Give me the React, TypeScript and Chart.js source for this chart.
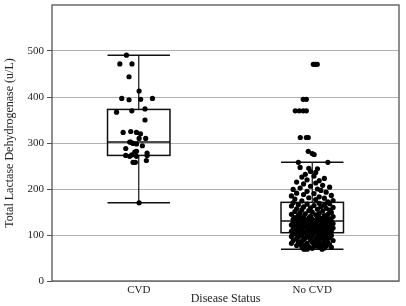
import React, { useEffect, useRef } from "react";
import { Chart, registerables } from "chart.js";

Chart.register(...registerables);

// Categories
const categories = ["CVD", "No CVD"];
const categoryPositions = [1, 2];

// Box plot summaries [min whisker, Q1, median, Q3, max whisker]
const cvdBox = [170, 273, 302, 373, 491];
const noCvdBox = [69, 105, 130.5, 171, 258];

// CVD observations (value) and horizontal jitter (category units)
const cvdValues = [
  491, 472, 472, 444, 413, 397, 394, 395, 397, 367, 370, 374, 350, 323, 325, 323, 320, 310, 310, 302,
  299, 298, 294, 288, 280, 282, 273, 271, 274, 271, 278, 273, 258, 258, 262, 170, 302,
];
const cvdJitter = [
  -0.071, -0.109, -0.039, -0.056, 0.002, -0.098, -0.056, 0.011, 0.079, -0.128, -0.04, 0.036, 0.036,
  -0.09, -0.046, -0.013, 0.01, 0.002, 0.04, -0.046, -0.033, -0.013, 0.021, -0.075, -0.023, -0.013,
  -0.075, -0.052, -0.04, -0.013, 0.048, 0.048, -0.033, -0.019, 0.044, 0.002, -0.052,
];

// No CVD observations (value) and horizontal jitter (category units)
const noCvdValues = [
  471, 471, 471, 395, 395, 370, 370, 370, 370, 312, 312, 312, 282, 277, 275,
  258, 258, 247, 245, 244, 238, 236, 232, 228, 226, 223, 220, 218, 215, 213, 211, 208, 206, 204, 202,
  200, 199, 197, 195, 193, 191, 190, 188, 186, 185, 183, 181, 180, 178, 177, 175, 174, 172,
  170, 169, 168, 167, 166, 165, 164, 163, 162, 161, 160, 159, 158, 157, 156, 155, 154, 153, 152, 151,
  150, 149, 148, 147, 146, 145, 145, 144, 143, 142, 141, 140, 140, 139, 138, 138, 137, 136, 136, 135,
  134, 134, 133, 133, 132, 132, 131, 131, 131, 130, 130, 130, 130, 130,
  129, 129, 128, 128, 127, 127, 126, 126, 125, 125, 124, 124, 123, 123, 122, 122, 121, 121, 120, 120,
  119, 119, 118, 118, 117, 117, 116, 116, 115, 115, 114, 114, 113, 113, 112, 112, 111, 111, 110, 110,
  109, 109, 108, 108, 107, 107, 106, 106, 106, 105, 105, 105, 105, 105,
  104, 103, 103, 102, 101, 101, 100, 99, 99, 98, 97, 97, 96, 95, 95, 94, 93, 93, 92, 91,
  90, 90, 89, 88, 88, 87, 86, 86, 85, 84, 84, 83, 82, 82, 81, 80, 80, 79, 78, 78,
  77, 76, 76, 75, 74, 74, 73, 72, 72, 71, 70, 69, 69, 69,
];
const noCvdJitter = [
  0.006, 0.017, 0.029, -0.052, -0.034, -0.098, -0.075, -0.052, -0.034, -0.069, -0.034, -0.023, -0.023, 0, 0.011,
  -0.08, 0.09, -0.07, -0.02, 0.03, -0.01, 0.02, -0.04, 0.01, -0.06, 0.07, -0.03, 0.04, -0.09, 0.02, -0.05, 0.06, -0.01, 0.1, -0.07,
  0.03, -0.11, 0.05, -0.03, 0.08, -0.09, 0.01, -0.05, 0.11, -0.12, 0.04, -0.02, 0.07, -0.1, 0.02, 0.12, -0.06, 0.09,
  -0.11, 0.04, 0.1, -0.03, -0.08, 0.07, 0.01, -0.12, 0.05, -0.05, 0.12, -0.01, 0.08, -0.09, 0.03, -0.06, 0.1, -0.02, 0.06, -0.1,
  0, 0.11, -0.07, 0.04, -0.04, 0.09, -0.12, 0.02, -0.08, 0.07, -0.01, 0.12, -0.05, 0.03, -0.1, 0.08, -0.02, 0.05, -0.07, 0.1,
  0, -0.11, 0.06, -0.04, 0.02, -0.09, 0.09, -0.01, 0.04, -0.06, 0.11, 0.01, -0.03, 0.07,
  -0.08, 0.05, 0.1, -0.02, -0.11, 0.03, 0.07, -0.05, 0, 0.12, -0.09, 0.04, -0.03, 0.08, -0.12, 0.01, 0.06, -0.06, 0.11, -0.01,
  0.03, -0.08, 0.09, -0.04, 0.02, -0.1, 0.06, -0.02, 0.12, -0.07, 0, 0.05, -0.11, 0.08, -0.03, 0.03, 0.1, -0.06, 0.01, -0.09,
  0.07, -0.02, 0.04, -0.12, 0.11, -0.05, 0.02, 0.08, -0.08, -0.01, 0.05, -0.04, 0.1, 0,
  -0.07, 0.06, 0.01, -0.1, 0.09, -0.03, 0.04, -0.06, 0.11, 0, -0.12, 0.07, -0.02, 0.03, -0.08, 0.1, -0.04, 0.05, -0.09, 0.02,
  0.08, -0.05, -0.01, 0.12, -0.11, 0.04, -0.06, 0.07, 0, -0.08, 0.09, 0.03, -0.03, -0.12, 0.06, 0.01, -0.07, 0.1, -0.04, 0.05,
  -0.09, 0.02, 0.08, -0.02, -0.06, 0.04, 0.11, -0.03, 0.07, 0, -0.05, -0.046, -0.029, 0.057,
];

// Y axis ticks
const yTickValues = [0, 100, 200, 300, 400, 500];
const yMax = 600;

const boxes = [
  { pos: categoryPositions[0], stats: cvdBox },
  { pos: categoryPositions[1], stats: noCvdBox },
];

const BOX_HALF = 0.18;
const FONT = "'Liberation Serif', 'Times New Roman', serif";

const boxPlugin = {
  id: "boxPlot",
  beforeDatasetsDraw(chart: any) {
    const { ctx, scales } = chart;
    const x = scales.x;
    const y = scales.y;
    ctx.save();
    ctx.strokeStyle = "#111";
    boxes.forEach((b) => {
      const [mn, q1, med, q3, mx] = b.stats;
      const xl = x.getPixelForValue(b.pos - BOX_HALF);
      const xr = x.getPixelForValue(b.pos + BOX_HALF);
      const xc = x.getPixelForValue(b.pos);
      ctx.lineWidth = 1.2;
      ctx.beginPath();
      ctx.moveTo(xc, y.getPixelForValue(mx));
      ctx.lineTo(xc, y.getPixelForValue(q3));
      ctx.moveTo(xc, y.getPixelForValue(q1));
      ctx.lineTo(xc, y.getPixelForValue(mn));
      ctx.stroke();
      ctx.lineWidth = 1.5;
      ctx.beginPath();
      [mn, mx, med].forEach((v) => {
        const py = y.getPixelForValue(v);
        ctx.moveTo(xl, py);
        ctx.lineTo(xr, py);
      });
      ctx.stroke();
      const top = y.getPixelForValue(q3);
      const bot = y.getPixelForValue(q1);
      ctx.strokeRect(xl, top, xr - xl, bot - top);
    });
    ctx.restore();
  },
  afterDraw(chart: any) {
    const { ctx, chartArea } = chart;
    ctx.save();
    ctx.strokeStyle = "#555";
    ctx.lineWidth = 1.3;
    ctx.strokeRect(chartArea.left, chartArea.top, chartArea.right - chartArea.left, chartArea.bottom - chartArea.top);
    ctx.restore();
  },
};

export default function App() {
  const ref = useRef<HTMLCanvasElement>(null);
  useEffect(() => {
    document.body.style.margin = "0";
    const canvas = ref.current;
    if (!canvas) return;
    const cvdPts = cvdValues.map((v, i) => ({ x: categoryPositions[0] + cvdJitter[i], y: v }));
    const noPts = noCvdValues.map((v, i) => ({ x: categoryPositions[1] + noCvdJitter[i], y: v }));
    const chart = new Chart(canvas, {
      type: "scatter",
      data: {
        datasets: [
          { data: cvdPts, backgroundColor: "#000", borderColor: "#000", pointRadius: 2.6, borderWidth: 0 },
          { data: noPts, backgroundColor: "#000", borderColor: "#000", pointRadius: 2.6, borderWidth: 0 },
        ],
      },
      plugins: [boxPlugin],
      options: {
        animation: false,
        responsive: false,
        devicePixelRatio: 1,
        layout: { padding: { left: 0, right: 7, top: 5, bottom: 0 } },
        plugins: { legend: { display: false }, tooltip: { enabled: false } },
        scales: {
          x: {
            type: "linear",
            min: 0.5,
            max: 2.5,
            afterBuildTicks: (s: any) => {
              s.ticks = categoryPositions.map((p) => ({ value: p }));
            },
            afterFit: (s: any) => {
              s.height = 25;
              s.paddingLeft = 0;
              s.paddingRight = 0;
            },
            ticks: {
              autoSkip: false,
              maxRotation: 0,
              padding: 3,
              color: "#222",
              font: { family: FONT, size: 11 },
              callback: (v: any) => {
                const i = categoryPositions.indexOf(Number(v));
                return i >= 0 ? categories[i] : "";
              },
            },
            grid: { display: false, drawTicks: false },
            border: { display: false },
            title: {
              display: true,
              text: "Disease Status",
              color: "#222",
              font: { family: FONT, size: 12 },
              padding: { top: 0, bottom: 0 },
            },
          },
          y: {
            min: 0,
            max: yMax,
            afterBuildTicks: (s: any) => {
              s.ticks = yTickValues.map((v) => ({ value: v }));
            },
            afterFit: (s: any) => {
              s.width = 52;
              s.paddingTop = 0;
              s.paddingBottom = 0;
            },
            ticks: {
              padding: 3,
              color: "#222",
              font: { family: FONT, size: 11 },
            },
            grid: { color: "#b0b0b0", lineWidth: 1, tickLength: 5, tickColor: "#555" },
            border: { display: false },
            title: {
              display: true,
              text: "Total Lactase Dehydrogenase (u/L)",
              color: "#222",
              font: { family: FONT, size: 12 },
              padding: { top: 3, bottom: 0 },
            },
          },
        },
      },
    } as any);
    return () => chart.destroy();
  }, []);
  return (
    <div style={{ width: 406, height: 306 }}>
      <canvas ref={ref} width={406} height={306} style={{ display: "block" }} />
    </div>
  );
}
